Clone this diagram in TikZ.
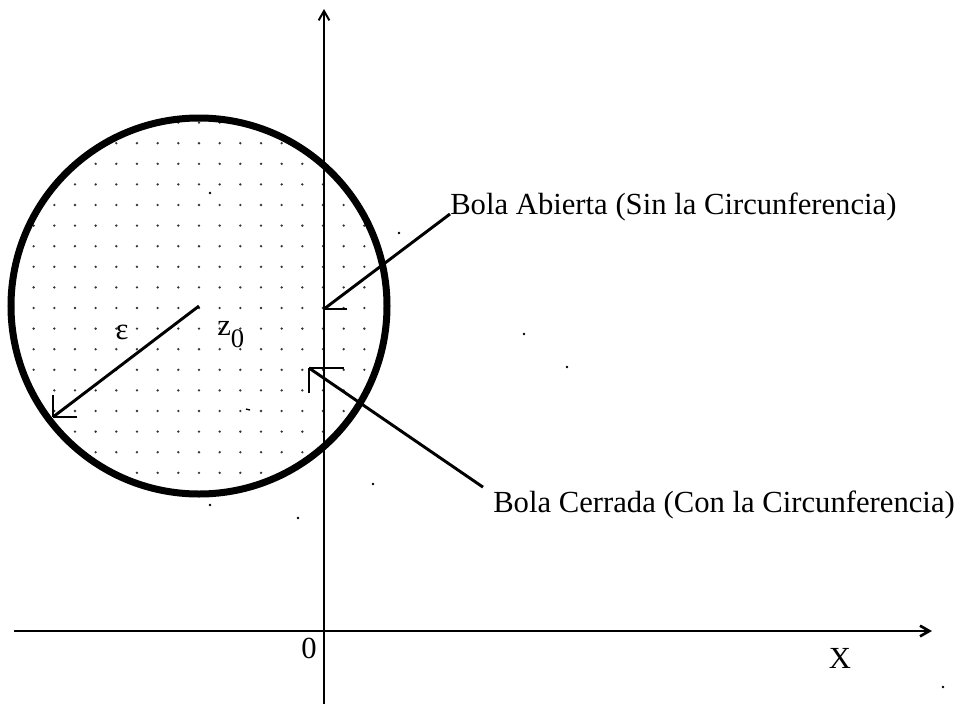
\documentclass[tikz,border=0pt]{standalone}
\usepackage{fontspec}
\setmainfont{Liberation Serif}
\usetikzlibrary{arrows.meta, positioning, calc}
\tikzset{
  lbl/.style={font=\fontsize{23}{26}\selectfont, inner sep=0pt},
  axis/.style={-{Straight Barb[length=7pt, width=8pt]}, line width=1.5pt},
  lead/.style={line width=2.2pt},
  barb/.style={line width=1.5pt},
  rim/.style={line width=5.25pt},
  speck/.style={fill=black},
}

\begin{document}
\begin{tikzpicture}[x=0.75pt, y=-0.75pt]
    \useasboundingbox (0,0) rectangle (968,704);
    \coordinate (z0) at (199,306);
    \begin{scope}
      \clip (z0) circle (186);
      \foreach \i in {-9,...,9} \foreach \j in {-9,...,9}
        \fill[black!80] ($(z0)+(20.67*\i,2+20.6*\j)$) circle (1.3);
    \end{scope}
    \draw[rim] (z0) circle (188);
    \coordinate (yb) at (324,704);
    \coordinate (yt) at (324,9);
    \coordinate (xl) at (14,631);
    \coordinate (xr) at (932,631);
    \draw[axis] (yb) -- (yt);
    \draw[axis, line width=2pt] (xl) -- (xr);
    \node[lbl] (o) at (309,648) {0};
    \node[lbl] (xlab) at (840,658) {X};
    \coordinate (rtip) at (53,417);
    \draw[lead] (z0) -- (rtip);
    \draw[barb] (rtip) -- ++(0,-22) (rtip) -- ++(24,0);
    \node[lbl] (eps) at (122,332) {ε};
    \node[lbl, anchor=base west] (zlab) at (217,335) {z\raisebox{-9.5pt}{\fontsize{20}{22}\selectfont 0}};
    \node[lbl, anchor=base west] (abierta) at (450,214) {Bola Abierta (Sin la Circunferencia)};
    \coordinate (atip) at (324,309);
    \draw[lead] (abierta.base west) -- (atip);
    \draw[barb] (atip) -- ++(23,0);
    \node[lbl, anchor=base west] (cerrada) at (493,512) {Bola Cerrada (Con la Circunferencia)};
    \coordinate (ctip) at (309,368);
    \draw[lead] ($(cerrada.north west)+(-10,-3)$) -- (ctip);
    \draw[barb] (ctip) -- ++(0,25) (ctip) -- ++(35,0);
    \foreach \p in {(210,193),(399,233),(524,334),(567,367),(373,484),(210,505),(298,518),(943,687)}
      \fill[speck] \p circle (1.4);
    \draw[line width=1pt] (246,409) -- (250,410);
  \end{tikzpicture}
\end{document}
